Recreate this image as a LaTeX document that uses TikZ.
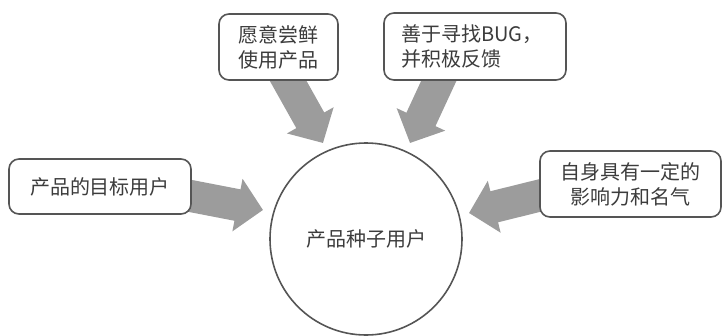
\documentclass[tikz,border=0pt]{standalone}
\usepackage{fontspec}
\setmainfont{Noto Sans CJK SC}
\usetikzlibrary{arrows.meta}
\definecolor{linegray}{HTML}{555555}
\definecolor{textgray}{HTML}{3C3C3C}
\definecolor{arrowgray}{HTML}{9C9C9C}
\begin{document}
\begin{tikzpicture}[x=1pt,y=-1pt,
  box/.style={draw=linegray, line width=1.6pt, rounded corners=10pt, fill=white,
    text=textgray, font=\fontsize{20}{25}\selectfont, inner sep=0pt},
  seed/.style={draw=linegray, line width=1.6pt, circle, minimum size=192pt, inner sep=0pt,
    text=textgray, font=\fontsize{20}{25}\selectfont},
  fat/.style={draw=arrowgray, line width=32pt, -{Triangle[length=26pt,width=52pt]}}]
\useasboundingbox (0,0) rectangle (723,335);
% connector coordinates
\coordinate (s1) at (277,61);
\coordinate (t1) at (323,143);
\coordinate (s2) at (448,61);
\coordinate (t2) at (410,143);
\coordinate (s3) at (170,192);
\coordinate (t3) at (263,210);
\coordinate (s4) at (562,190);
\coordinate (t4) at (469,213);
% fat arrows (drawn beneath the boxes)
\draw[fat] (s1) -- (t1);
\draw[fat] (s2) -- (t2);
\draw[fat] (s3) -- (t3);
\draw[fat] (s4) -- (t4);
% nodes
\node[seed] (c) at (366,239) {产品种子用户};
\node[box, minimum width=119pt, minimum height=66pt, align=center] (b1) at (278.5,47)
  {愿意尝鲜\\使用产品};
\node[box, inner xsep=17pt, text width=148pt, minimum height=67pt, align=left] (b2) at (475,46.5)
  {善于寻找BUG，\\并积极反馈};
\node[box, minimum width=182pt, minimum height=55pt] (b3) at (100,186.5)
  {产品的目标用户};
\node[box, minimum width=181pt, minimum height=66pt, align=center] (b4) at (630.5,184)
  {自身具有一定的\\影响力和名气};
\end{tikzpicture}
\end{document}
